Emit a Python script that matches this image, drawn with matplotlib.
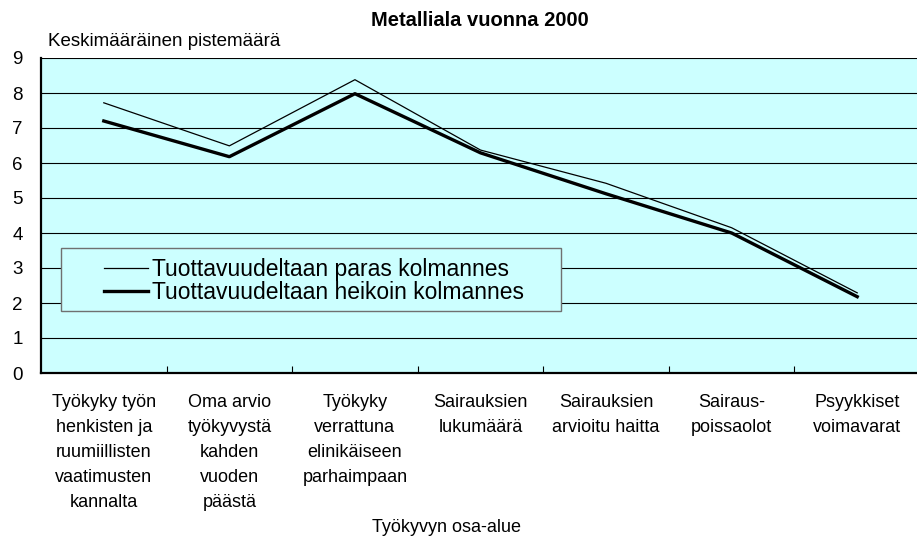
import matplotlib.pyplot as plt
from matplotlib.patches import Rectangle

plt.rcParams['font.family'] = ['Liberation Sans', 'DejaVu Sans']

# data
kategoriat = [
    "Työkyky työn\nhenkisten ja\nruumiillisten\nvaatimusten\nkannalta",
    "Oma arvio\ntyökyvystä\nkahden\nvuoden\npäästä",
    "Työkyky\nverrattuna\nelinikäiseen\nparhaimpaan",
    "Sairauksien\nlukumäärä",
    "Sairauksien\narvioitu haitta",
    "Sairaus-\npoissaolot",
    "Psyykkiset\nvoimavarat",
]
paras = [7.72, 6.49, 8.38, 6.37, 5.42, 4.15, 2.29]
heikoin = [7.2, 6.18, 7.98, 6.29, 5.12, 4.0, 2.18]
nimet = ["Tuottavuudeltaan paras kolmannes", "Tuottavuudeltaan heikoin kolmannes"]

W, H = 917, 541
fig = plt.figure(figsize=(W / 100, H / 100), dpi=100)
ax = fig.add_axes([41 / W, (H - 373) / H, 879 / W, 315 / H])
ax.set_facecolor('#CCFFFF')

x = list(range(len(kategoriat)))
ax.plot(x, paras, color='black', lw=0.9, zorder=4, label=nimet[0])
ax.plot(x, heikoin, color='black', lw=2.4, zorder=4, label=nimet[1])

ax.set_xlim(-0.5, len(kategoriat) - 0.5)
ax.set_ylim(0, 9)
ax.set_yticks(range(10))
ax.tick_params(axis='y', length=0, pad=13, labelsize=13.5)
ax.set_xticks(x)
ax.set_xticklabels(kategoriat, fontsize=13, linespacing=1.61, va='top')
ax.tick_params(axis='x', which='major', length=0, pad=15)
ax.set_xticks([i + 0.5 for i in x[:-1]], minor=True)
ax.tick_params(axis='x', which='minor', direction='in', length=5, width=0.8)

for yv in range(1, 10):
    ax.axhline(yv, color='black', lw=0.8, zorder=1)

for s in ['top', 'right']:
    ax.spines[s].set_visible(False)
ax.spines['left'].set_linewidth(1.6)
ax.spines['bottom'].set_linewidth(1.6)

# legend box
laatikko = Rectangle((61 / W, 1 - 311 / H), 500 / W, 63 / H, transform=fig.transFigure,
                     facecolor='#CCFFFF', edgecolor='#707070', lw=1, zorder=5)
ax.add_patch(laatikko)
laatikko.set_clip_on(False)
leg = ax.legend(loc='upper left', bbox_to_anchor=(104 / W, 1 - 258 / H),
                bbox_transform=fig.transFigure, frameon=False, fontsize=16.5,
                borderpad=0, borderaxespad=0, handlelength=1.9, handletextpad=0.2,
                labelspacing=0.0)
leg.set_zorder(6)

fig.text(480 / W, 1 - 20 / H, "Metalliala vuonna 2000", ha='center', va='center',
         fontsize=14.5, fontweight='bold')
fig.text(48 / W, 1 - 42 / H, "Keskimääräinen pistemäärä", ha='left', va='center', fontsize=13.5)
fig.text(446 / W, 1 - 527 / H, "Työkyvyn osa-alue", ha='center', va='center', fontsize=13)

fig.savefig('out.png', dpi=100)
